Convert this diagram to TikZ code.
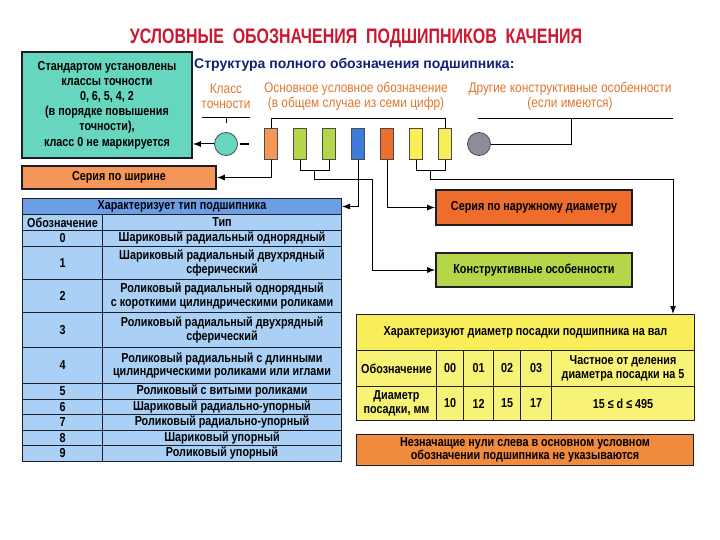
\documentclass[tikz,border=0pt]{standalone}
\usepackage{fontspec}
\setmainfont{Liberation Sans}
\newfontfamily\titlefont{Liberation Sans}[FakeStretch=0.76]
\newfontfamily\nar{Liberation Sans}[FakeStretch=0.83]
\newfontfamily\narl{Liberation Sans}[FakeStretch=0.85]
\usetikzlibrary{arrows.meta}
\definecolor{titlered}{RGB}{205,22,48}
\definecolor{navy}{RGB}{22,30,120}
\definecolor{lblorange}{RGB}{222,118,44}
\definecolor{tealfill}{RGB}{102,214,190}
\definecolor{orangeA}{RGB}{244,150,88}
\definecolor{orangeB}{RGB}{238,108,44}
\definecolor{orangeC}{RGB}{240,138,60}
\definecolor{greenfill}{RGB}{182,214,74}
\definecolor{bluefill}{RGB}{62,124,220}
\definecolor{yellowfill}{RGB}{247,238,90}
\definecolor{yellowlt}{RGB}{248,242,118}
\definecolor{grayfill}{RGB}{140,140,154}
\definecolor{tblhead}{RGB}{108,158,230}
\definecolor{tblcell}{RGB}{170,208,245}
\definecolor{bordercol}{RGB}{30,30,40}
\newcommand\trow[5]{%
  \node[tcell, minimum width=80pt, minimum height={#3-#2}, anchor=north west] (#1n) at (22,#2) {#4};
  \node[tcell, minimum width=239pt, minimum height={#3-#2}, anchor=north west] (#1t) at (102,#2) {#5};}
\newcommand\ycell[5]{%
  \node[ycellst, minimum width={#3-#2}, minimum height={#5-#4}, anchor=north west] (#1) at (#2,#4)}
\begin{document}
\begin{tikzpicture}[x=1pt,y=-1pt,
  every node/.style={font=\nar\fontsize{13}{13.5}\selectfont\bfseries, inner sep=0pt, align=center},
  box/.style={draw=bordercol, line width=1.6pt},
  tcell/.style={draw=bordercol, line width=1pt, fill=tblcell},
  ycellst/.style={draw=bordercol, line width=1pt, fill=yellowlt},
  lbl/.style={font=\narl\fontsize{14}{15}\selectfont, text=lblorange},
  digit/.style={draw=black!70, line width=0.8pt, minimum width=13pt, minimum height=31pt},
  ln/.style={line width=0.9pt, black},
  arr/.style={line width=1pt, black, -{Latex[length=8pt,width=6pt]}}]
\useasboundingbox (0,0) rectangle (720,540);

% title
\node[font=\titlefont\fontsize{21}{24}\selectfont\bfseries, text=titlered] (title) at (356,38) {УСЛОВНЫЕ\ \ ОБОЗНАЧЕНИЯ\ \ ПОДШИПНИКОВ\ \ КАЧЕНИЯ};

% left info box
\node[box, fill=tealfill, minimum width=170pt, minimum height=106pt,
      font=\nar\fontsize{13}{15.2}\selectfont\bfseries] (teal) at (107,105)
  {Стандартом установлены\\классы точности\\0, 6, 5, 4, 2\\(в порядке повышения\\точности),\\класс 0 не маркируется};

\node[font=\fontsize{14}{16}\selectfont\bfseries, text=navy, anchor=west] (struct) at (194,65) {Структура полного обозначения подшипника:};

% labels above
\node[lbl] (lK) at (226,96) {Класс\\точности};
\node[lbl] (lO) at (356,96) {Основное условное обозначение\\(в общем случае из семи цифр)};
\node[lbl] (lD) at (570,96) {Другие конструктивные особенности\\(если имеются)};

% designation symbols
\node[circle, draw=black!70, line width=0.8pt, fill=tealfill, minimum size=23pt] (cK) at (226,144) {};
\coordinate (dA) at (240,144); \coordinate (dB) at (249,144);
\draw[line width=2pt] (dA) -- (dB);
\node[digit, fill=orangeA] (r1) at (271,144) {};
\node[digit, fill=greenfill] (r2) at (300,144) {};
\node[digit, fill=greenfill] (r3) at (329,144) {};
\node[digit, fill=bluefill] (r4) at (358,144) {};
\node[digit, fill=orangeB] (r5) at (387,144) {};
\node[digit, fill=yellowfill] (r6) at (416,144) {};
\node[digit, fill=yellowfill] (r7) at (445,144) {};
\node[circle, draw=black!70, line width=0.8pt, fill=grayfill, minimum size=23pt] (gC) at (479,144) {};

% upper connectors
\coordinate (kL) at (202,117); \coordinate (kR) at (250,117);
\draw[ln] (kL) -- (kR);
\draw[ln] (kL -| cK) -- ++(0,6);
\draw[ln] (r1.north) -- ++(0,-10) -| (r7.north);
\coordinate (dL) at (478,118); \coordinate (dR) at (673,118);
\draw[ln] (dL) -- (dR);
\draw[ln] (gC.east) -| (dL -| 571,0);
\draw[arr] (cK.west) -- (cK.west -| teal.east);

% right boxes
\node[box, fill=orangeA, minimum width=194pt, minimum height=23pt] (shir) at (119,177.5) {Серия по ширине};
\node[box, fill=orangeB, minimum width=196pt, minimum height=35pt] (nar) at (534,207.5) {Серия по наружному диаметру};
\node[box, fill=greenfill, minimum width=196pt, minimum height=34pt] (kon) at (534,270) {Конструктивные особенности};

% type table
\node[draw=bordercol, line width=1pt, fill=tblhead, minimum width=319pt, minimum height=16pt, anchor=north west] (hdr) at (22,198) {Характеризует тип подшипника};
\trow{h}{214}{230}{Обозначение}{Тип}
\trow{a}{230}{246}{0}{Шариковый радиальный однорядный}
\trow{b}{246}{279}{1}{Шариковый радиальный двухрядный\\сферический}
\trow{c}{279}{312}{2}{Роликовый радиальный однорядный\\с короткими цилиндрическими роликами}
\trow{d}{312}{347}{3}{Роликовый радиальный двухрядный\\сферический}
\trow{e}{347}{383}{4}{Роликовый радиальный с длинными\\цилиндрическими роликами или иглами}
\trow{f}{383}{398.5}{5}{Роликовый с витыми роликами}
\trow{g}{398.5}{414}{6}{Шариковый радиально-упорный}
\trow{i}{414}{429.5}{7}{Роликовый радиально-упорный}
\trow{j}{429.5}{445}{8}{Шариковый упорный}
\trow{k}{445}{461}{9}{Роликовый упорный}

% lower connectors
\draw[arr] (r1.south) |- (shir.east);
\draw[ln] (r2.south) -- ++(0,11) coordinate (gb) -| (r3.south);
\path (gb) -- coordinate[midway] (gm) (gb -| r3.south);
\coordinate (gk) at (372,180);
\draw[arr] (gm) |- (gk) |- (kon.west);
\draw[arr] (r4.south) |- (hdr.east);
\draw[arr] (r5.south) |- (nar.west);
\draw[ln] (r6.south) -- ++(0,11) coordinate (yb) -| (r7.south);
\path (yb) -- coordinate[midway] (ym) (yb -| r7.south);
\coordinate (yk) at (673,180);

% yellow table
\node[ycellst, fill=yellowfill, minimum width=338pt, minimum height=36pt, anchor=north west] (yh) at (356,314) {Характеризуют диаметр посадки подшипника на вал};
\draw[arr] (ym) |- (yk) -- (yk |- yh.north);
\ycell{ya}{356}{436}{350}{386}{Обозначение};
\ycell{yb0}{436}{463}{350}{386}{00};
\ycell{yb1}{463}{493}{350}{386}{01};
\ycell{yb2}{493}{520}{350}{386}{02};
\ycell{yb3}{520}{551}{350}{386}{03};
\ycell{yc}{551}{694}{350}{386}{Частное от деления\\диаметра посадки на 5};
\ycell{za}{356}{436}{386}{420}{Диаметр\\посадки, мм};
\ycell{zb0}{436}{463}{386}{420}{10};
\ycell{zb1}{463}{493}{386}{420}{12};
\ycell{zb2}{493}{520}{386}{420}{15};
\ycell{zb3}{520}{551}{386}{420}{17};
\ycell{zc}{551}{694}{386}{420}{15 ≤ d ≤ 495};

\node[box, fill=orangeC, minimum width=337pt, minimum height=31pt] (note) at (525,450)
  {Незначащие нули слева в основном условном\\обозначении подшипника не указываются};
\end{tikzpicture}
\end{document}
